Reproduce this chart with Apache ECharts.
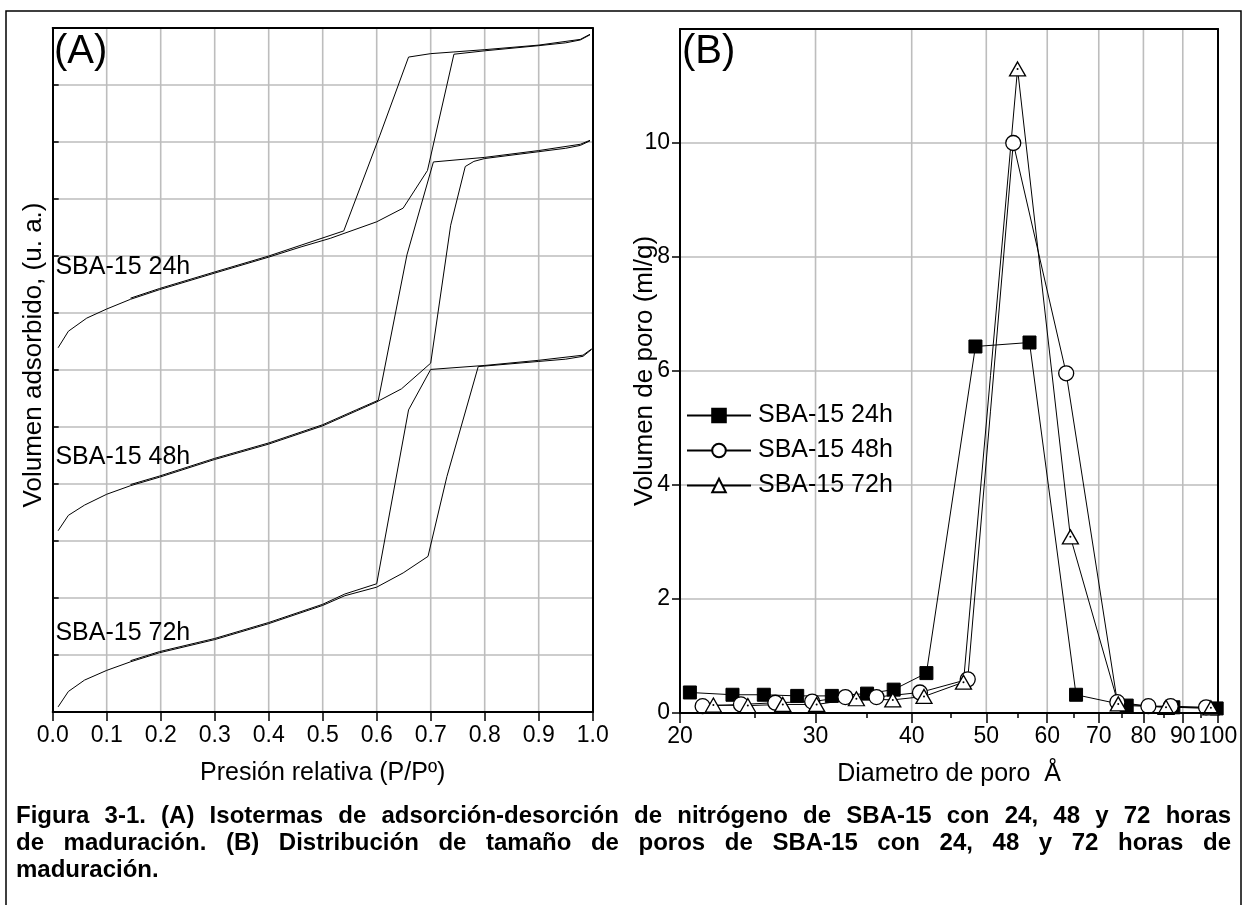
<!DOCTYPE html>
<html>
<head>
<meta charset="utf-8">
<script src="https://cdn.jsdelivr.net/npm/echarts@6/dist/echarts.min.js"></script>
<style>
  html, body { margin: 0; padding: 0; background: #fff; }
  #chart { width: 1247px; height: 905px; }
</style>
</head>
<body>
<div id="chart"></div>
<script>
// ---------- (A) N2 adsorption–desorption isotherms, [P/P0, volume (a.u.)] ----------
const ads24 = [[0.010,6.39],[0.029,6.68],[0.063,6.91],[0.100,7.07],[0.144,7.24],[0.198,7.41],[0.300,7.70],[0.400,7.98],[0.460,8.16],[0.514,8.31],[0.600,8.60],[0.649,8.84],[0.694,9.50],[0.743,11.54],[0.800,11.60],[0.900,11.69],[0.950,11.74],[0.977,11.79],[0.995,11.88]];
const des24 = [[0.995,11.89],[0.977,11.80],[0.900,11.70],[0.800,11.62],[0.743,11.58],[0.700,11.55],[0.659,11.49],[0.606,10.12],[0.539,8.44],[0.460,8.19],[0.400,8.00],[0.300,7.72],[0.198,7.43],[0.144,7.26]];
const ads48 = [[0.010,3.18],[0.029,3.45],[0.059,3.63],[0.100,3.82],[0.144,3.97],[0.198,4.12],[0.300,4.43],[0.400,4.70],[0.500,5.02],[0.562,5.28],[0.600,5.44],[0.646,5.67],[0.700,6.12],[0.737,8.54],[0.764,9.57],[0.780,9.66],[0.800,9.71],[0.900,9.83],[0.950,9.89],[0.977,9.94],[0.995,10.02]];
const des48 = [[0.995,10.03],[0.977,9.96],[0.900,9.85],[0.800,9.73],[0.705,9.65],[0.656,8.02],[0.603,5.47],[0.562,5.30],[0.500,5.04],[0.400,4.72],[0.300,4.45],[0.198,4.14],[0.144,3.99]];
const ads72 = [[0.010,0.09],[0.029,0.36],[0.059,0.56],[0.100,0.73],[0.144,0.88],[0.198,1.04],[0.300,1.27],[0.400,1.55],[0.500,1.87],[0.541,2.04],[0.600,2.19],[0.649,2.44],[0.695,2.73],[0.730,4.13],[0.788,6.06],[0.900,6.15],[0.950,6.19],[0.982,6.24],[0.998,6.36]];
const des72 = [[0.998,6.37],[0.982,6.26],[0.900,6.17],[0.800,6.08],[0.700,6.01],[0.659,5.30],[0.600,2.25],[0.541,2.07],[0.500,1.89],[0.400,1.57],[0.300,1.29],[0.198,1.06],[0.144,0.90]];
const curveNames = ['SBA-15 24h', 'SBA-15 48h', 'SBA-15 72h'];
const curveLabelAt = [[0.005, 7.81], [0.005, 4.48], [0.005, 1.38]];

// ---------- (B) pore size distribution: diameter (Å) and pore volume (ml/g) ----------
const diam24 = [20.6, 23.4, 25.7, 28.4, 31.5, 35.0, 37.9, 41.8, 48.4, 56.9, 65.4, 76.1, 87.5, 99.6];
const vol24  = [0.36, 0.32, 0.32, 0.30, 0.30, 0.34, 0.41, 0.70, 6.43, 6.50, 0.32, 0.13, 0.10, 0.08];
const diam48 = [21.4, 24.0, 26.6, 29.7, 32.8, 36.0, 41.0, 47.3, 54.2, 63.5, 74.0, 81.2, 86.8, 96.5];
const vol48  = [0.12, 0.15, 0.18, 0.20, 0.28, 0.28, 0.36, 0.59, 10.0, 5.96, 0.19, 0.12, 0.12, 0.10];
const diam72 = [22.1, 24.5, 27.2, 30.1, 33.9, 37.8, 41.5, 46.7, 54.9, 64.3, 74.2, 85.6, 97.9];
const vol72  = [0.14, 0.13, 0.15, 0.15, 0.25, 0.23, 0.29, 0.54, 11.3, 3.09, 0.16, 0.10, 0.09];

// ---------- axis ranges, ticks and gridline values ----------
const rangeXA = [0, 1], rangeYA = [0, 12];
const rangeXB = [20, 100], rangeYB = [0, 12];
const gridXA = [0.1, 0.2, 0.3, 0.4, 0.5, 0.6, 0.7, 0.8, 0.9];
const gridYA = [1, 2, 3, 4, 5, 6, 7, 8, 9, 10, 11];
const xTicksB = [20, 30, 40, 50, 60, 70, 80, 90, 100];
const xMinorB = [25, 35, 45, 55, 65, 75, 85, 95];
const gridXB = [30, 40, 50, 60, 70, 80, 90];
const yTicksB = [0, 2, 4, 6, 8, 10];
const gridYB = [2, 4, 6, 8, 10];

const captionLines = [
  'Figura 3-1. (A) Isotermas de adsorción-desorción de nitrógeno de SBA-15 con 24, 48 y 72 horas',
  'de maduración. (B) Distribución de tamaño de poros de SBA-15 con 24, 48 y 72 horas de',
  'maduración.'
];

const FONT = '"Liberation Sans", Arial, sans-serif';
const BLACK = '#000';
const GRID_GRAY = '#bdbdbd';

const pairs = (xs, ys) => xs.map((x, i) => [x, ys[i]]);

const chart = echarts.init(document.getElementById('chart'), null, { renderer: 'canvas' });

const off = () => ({ show: false });
const blackLine = () => ({ show: true, onZero: false, lineStyle: { color: BLACK, width: 2 } });
// border axes drawn above everything inside the plot
const frameAxis = (extra) => Object.assign({
  axisLine: blackLine(), axisTick: off(), axisLabel: off(), splitLine: off(), z: 6, silent: true
}, extra);

// light grey gridlines, one line per axis value, under the curves
const gridSeries = (xi, yi, xs, ys, xr, yr) =>
  xs.map(v => [[v, yr[0]], [v, yr[1]]]).concat(ys.map(v => [[xr[0], v], [xr[1], v]]))
    .map(seg => ({
      type: 'line', xAxisIndex: xi, yAxisIndex: yi, data: seg, silent: true, z: 2,
      symbol: 'none', showSymbol: false,
      lineStyle: { color: GRID_GRAY, width: 1.6, opacity: 1 }
    }));

const nameStyle = { fontFamily: FONT, fontSize: 25, color: BLACK };
const tickLabel = { fontFamily: FONT, fontSize: 23, color: BLACK };

// justified caption built from measured word widths
const measureCtx = document.createElement('canvas').getContext('2d');
const capFont = 'bold 24px "Liberation Sans"';
measureCtx.font = capFont;
const capLeft = 16, capRight = 1231, capY = [816, 843, 870];
const captionGraphics = [];
captionLines.forEach((line, li) => {
  const justify = li < captionLines.length - 1;
  if (!justify) {
    captionGraphics.push({ type: 'text', x: capLeft, y: capY[li], silent: true,
      style: { text: line, font: capFont, fill: BLACK, align: 'left', verticalAlign: 'middle' } });
    return;
  }
  const words = line.split(' ');
  const widths = words.map(w => measureCtx.measureText(w).width);
  const total = widths.reduce((a, b) => a + b, 0);
  const gap = (capRight - capLeft - total) / (words.length - 1);
  let x = capLeft;
  words.forEach((w, i) => {
    captionGraphics.push({ type: 'text', x: x, y: capY[li], silent: true,
      style: { text: w, font: capFont, fill: BLACK, align: 'left', verticalAlign: 'middle' } });
    x += widths[i] + gap;
  });
});

const isoLine = (name, data) => ({
  name: name, type: 'line', xAxisIndex: 0, yAxisIndex: 0, data: data,
  symbol: 'none', showSymbol: false, silent: true, z: 5,
  lineStyle: { color: BLACK, width: 1 }
});

const option = {
  animation: false,
  backgroundColor: '#fff',
  textStyle: { fontFamily: FONT },
  grid: [
    { left: 52.7, top: 28, width: 540, height: 684, outerBoundsMode: 'none', containLabel: false },
    { left: 680, top: 29, width: 538, height: 684, outerBoundsMode: 'none', containLabel: false }
  ],
  title: [
    { text: '(A)', left: 54, top: 32, padding: 0, textStyle: { fontFamily: FONT, fontSize: 40, fontWeight: 'normal', color: BLACK } },
    { text: '(B)', left: 682, top: 32, padding: 0, textStyle: { fontFamily: FONT, fontSize: 40, fontWeight: 'normal', color: BLACK } }
  ],
  legend: {
    data: curveNames, orient: 'vertical', left: 686, top: 403, padding: 0,
    itemWidth: 64, itemHeight: 17, itemGap: 10, selectedMode: false,
    textStyle: { fontFamily: FONT, fontSize: 25, color: BLACK, padding: [0, 0, 0, 2] }
  },
  xAxis: [
    // 0: panel A main (labels, ticks)
    {
      gridIndex: 0, type: 'value', min: rangeXA[0], max: rangeXA[1], interval: 0.1, position: 'bottom', z: 1,
      name: 'Presión relativa (P/Pº)', nameLocation: 'middle', nameGap: 49, nameMoveOverlap: false,
      nameTextStyle: nameStyle,
      axisLine: { show: false, onZero: false },
      axisTick: { show: true, inside: false, length: 9, lineStyle: { color: BLACK, width: 1.5 } },
      axisLabel: Object.assign({ show: true, margin: 12, formatter: v => v.toFixed(1) }, tickLabel),
      splitLine: off()
    },
    // 1, 2: panel A frame
    frameAxis({ gridIndex: 0, type: 'value', min: rangeXA[0], max: rangeXA[1], position: 'bottom' }),
    frameAxis({ gridIndex: 0, type: 'value', min: rangeXA[0], max: rangeXA[1], position: 'top' }),
    // 3: panel B main (log scale)
    {
      gridIndex: 1, type: 'log', logBase: 10, min: rangeXB[0], max: rangeXB[1], position: 'bottom', z: 1,
      name: 'Diametro de poro\u00a0 Å', nameLocation: 'middle', nameGap: 49, nameMoveOverlap: false,
      nameTextStyle: nameStyle,
      axisLine: { show: false, onZero: false },
      axisTick: { show: true, inside: false, length: 10, customValues: xTicksB, lineStyle: { color: BLACK, width: 1.5 } },
      axisLabel: Object.assign({ show: true, margin: 12, customValues: xTicksB, formatter: v => String(Math.round(v)) }, tickLabel),
      splitLine: off()
    },
    // 4: panel B minor ticks
    {
      gridIndex: 1, type: 'log', logBase: 10, min: rangeXB[0], max: rangeXB[1], position: 'bottom', z: 6,
      axisLine: { show: false, onZero: false },
      axisTick: { show: true, inside: false, length: 5, customValues: xMinorB, lineStyle: { color: BLACK, width: 1.5 } },
      axisLabel: off(), splitLine: off(), silent: true
    },
    // 5, 6: panel B frame
    frameAxis({ gridIndex: 1, type: 'log', logBase: 10, min: rangeXB[0], max: rangeXB[1], position: 'bottom' }),
    frameAxis({ gridIndex: 1, type: 'log', logBase: 10, min: rangeXB[0], max: rangeXB[1], position: 'top' })
  ],
  yAxis: [
    // 0: panel A main (name only)
    {
      gridIndex: 0, type: 'value', min: rangeYA[0], max: rangeYA[1], interval: 1, position: 'left', z: 1,
      name: 'Volumen adsorbido, (u. a.)', nameLocation: 'middle', nameGap: 6, nameMoveOverlap: false,
      nameTextStyle: Object.assign({}, nameStyle, { fontSize: 26, padding: [0, 0, 0, 30] }),
      axisLine: { show: false, onZero: false },
      axisTick: off(), axisLabel: off(), splitLine: off()
    },
    // 1: panel A left border with inward ticks
    frameAxis({ gridIndex: 0, type: 'value', min: rangeYA[0], max: rangeYA[1], interval: 1, position: 'left',
      axisTick: { show: true, inside: true, length: 6, lineStyle: { color: BLACK, width: 1.5 } } }),
    // 2: panel A right border
    frameAxis({ gridIndex: 0, type: 'value', min: rangeYA[0], max: rangeYA[1], position: 'right' }),
    // 3: panel B main
    {
      gridIndex: 1, type: 'value', min: rangeYB[0], max: rangeYB[1], position: 'left', z: 1,
      name: 'Volumen de poro (ml/g)', nameLocation: 'middle', nameGap: 22, nameMoveOverlap: false,
      nameTextStyle: Object.assign({}, nameStyle, { fontSize: 26 }),
      axisLine: { show: false, onZero: false },
      axisTick: { show: true, inside: false, length: 8, customValues: yTicksB, lineStyle: { color: BLACK, width: 1.5 } },
      axisLabel: Object.assign({ show: true, margin: 10, customValues: yTicksB }, tickLabel),
      splitLine: off()
    },
    // 4, 5: panel B frame
    frameAxis({ gridIndex: 1, type: 'value', min: rangeYB[0], max: rangeYB[1], position: 'left' }),
    frameAxis({ gridIndex: 1, type: 'value', min: rangeYB[0], max: rangeYB[1], position: 'right' })
  ],
  series: [].concat(
    gridSeries(0, 0, gridXA, gridYA, rangeXA, rangeYA),
    gridSeries(3, 3, gridXB, gridYB, rangeXB, rangeYB),
    [
      isoLine('ads 24h', ads24), isoLine('des 24h', des24),
      isoLine('ads 48h', ads48), isoLine('des 48h', des48),
      isoLine('ads 72h', ads72), isoLine('des 72h', des72),
      {
        name: 'curve labels', type: 'scatter', xAxisIndex: 0, yAxisIndex: 0, silent: true,
        symbolSize: 0, z: 5, itemStyle: { opacity: 1 },
        data: curveNames.map((n, i) => ({ name: n, value: curveLabelAt[i] })),
        label: { show: true, position: 'right', distance: 0, formatter: p => p.name,
          fontFamily: FONT, fontSize: 25, color: BLACK, opacity: 1 }
      },
      {
        name: curveNames[0], type: 'line', xAxisIndex: 3, yAxisIndex: 3, data: pairs(diam24, vol24),
        symbol: 'rect', symbolSize: 13, showAllSymbol: true, silent: true, z: 5,
        lineStyle: { color: BLACK, width: 1 },
        itemStyle: { color: BLACK, borderColor: BLACK, borderWidth: 1 }
      },
      {
        name: curveNames[1], type: 'line', xAxisIndex: 3, yAxisIndex: 3, data: pairs(diam48, vol48),
        symbol: 'circle', symbolSize: 15, showAllSymbol: true, silent: true, z: 5,
        lineStyle: { color: BLACK, width: 1 },
        itemStyle: { color: '#fff', borderColor: BLACK, borderWidth: 1.3 }
      },
      {
        name: curveNames[2], type: 'line', xAxisIndex: 3, yAxisIndex: 3, data: pairs(diam72, vol72),
        symbol: 'triangle', symbolSize: [16, 14], showAllSymbol: true, silent: true, z: 5,
        lineStyle: { color: BLACK, width: 1 },
        itemStyle: { color: '#fff', borderColor: BLACK, borderWidth: 1.3 }
      },
      {
        name: 'triangle centres', type: 'scatter', xAxisIndex: 3, yAxisIndex: 3, data: pairs(diam72, vol72),
        symbol: 'circle', symbolSize: 2, silent: true, z: 5, itemStyle: { color: BLACK, opacity: 1 }
      }
    ]
  ),
  graphic: [
    { type: 'rect', silent: true, z: -10, shape: { x: 6, y: 11, width: 1235, height: 1000 },
      style: { fill: 'transparent', stroke: BLACK, lineWidth: 1.5 } }
  ].concat(captionGraphics)
};

chart.setOption(option);
</script>
</body>
</html>
